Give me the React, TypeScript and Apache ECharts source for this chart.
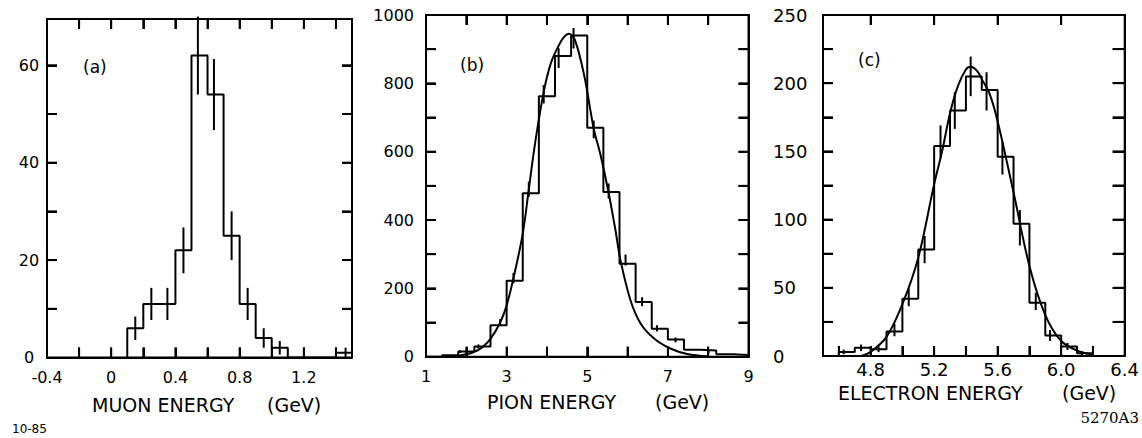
import React, { useEffect, useRef } from "react";
import * as echarts from "echarts";

// ---------- Panel (a): muon energy ----------
const muonBinEdges = [0.1, 0.2, 0.3, 0.4, 0.5, 0.6, 0.7, 0.8, 0.9, 1.0, 1.1, 1.2, 1.3, 1.4, 1.5];
const muonCounts = [6, 11, 11, 22, 62, 54, 25, 11, 4, 2, 0, 0, 0, 1];
const muonErrX = [0.15, 0.25, 0.35, 0.45, 0.54, 0.64, 0.75, 0.85, 0.95, 1.05, 1.46];
const muonErrMid = [6, 11, 11, 22, 62, 54, 25, 11, 4, 2, 1];
const muonErrHalf = [2.4, 3.3, 3.3, 4.7, 8, 7.3, 5, 3.3, 2, 1.4, 1];
const muonXTicks = [-0.2, 0, 0.2, 0.4, 0.6, 0.8, 1.0, 1.2, 1.4];
const muonYTicks = [10, 20, 30, 40, 50, 60];

// ---------- Panel (b): pion energy ----------
const pionBinEdges = [1.0, 1.4, 1.8, 2.2, 2.6, 3.0, 3.4, 3.8, 4.2, 4.6, 5.0, 5.4, 5.8, 6.2, 6.6, 7.0, 7.4, 7.8, 8.2, 8.6, 9.0];
const pionCounts = [0, 4, 15, 30, 92, 222, 478, 762, 880, 940, 670, 482, 272, 160, 82, 50, 20, 18, 7, 5];
const pionErrX = [1.85, 2.3, 2.84, 3.17, 3.55, 3.92, 4.29, 4.66, 5.16, 5.53, 5.95, 6.36, 6.73, 7.19, 8.01];
const pionErrMid = [15, 30, 100, 230, 490, 768, 874, 932, 665, 485, 283, 161, 83, 49, 15];
const pionErrHalf = [4, 6, 10, 15, 22, 27, 29, 30, 26, 22, 16, 13, 9, 7, 4];
const pionFitX = [1.4, 1.8, 2.0, 2.2, 2.4, 2.6, 2.84, 3.0, 3.17, 3.4, 3.55, 3.7, 3.92, 4.1, 4.29, 4.42, 4.55, 4.7, 4.93, 5.16, 5.33, 5.53, 5.7, 5.82, 6.07, 6.32, 6.65, 7.06, 7.48, 8.0];
const pionFitY = [0, 3, 7, 14, 28, 52, 100, 150, 230, 360, 490, 620, 775, 860, 910, 935, 945, 925, 820, 668, 590, 480, 370, 285, 166, 98, 54, 24, 8, 1];
const pionXTicks = [2, 3, 4, 5, 6, 7, 8];
const pionYTicks = [100, 200, 300, 400, 500, 600, 700, 800, 900];

// ---------- Panel (c): electron energy ----------
const elecBinEdges = [4.6, 4.7, 4.8, 4.9, 5.0, 5.1, 5.2, 5.3, 5.4, 5.5, 5.6, 5.7, 5.8, 5.9, 6.0, 6.1, 6.2];
const elecCounts = [3, 6, 5, 18, 42, 78, 154, 180, 205, 195, 146, 97, 39, 15, 7, 2];
const elecErrX = [4.63, 4.74, 4.85, 4.95, 5.04, 5.14, 5.24, 5.33, 5.43, 5.53, 5.63, 5.74, 5.84, 5.93, 6.04, 6.13];
const elecErrMid = [3, 6, 5, 19, 43, 78, 157, 180, 205, 194, 145, 94, 40, 15, 7, 2];
const elecErrHalf = [1.7, 2.4, 2.2, 4.5, 6.5, 10, 12, 13.5, 14.5, 14, 12, 13, 6.3, 4, 2.6, 1.5];
const elecFitX = [4.74, 4.8, 4.9, 5.0, 5.1, 5.2, 5.25, 5.3, 5.35, 5.4, 5.43, 5.47, 5.5, 5.55, 5.6, 5.7, 5.8, 5.9, 6.0, 6.1, 6.2];
const elecFitY = [0, 3, 14, 38, 72, 126, 150, 178, 198, 210, 212, 209, 203, 192, 172, 120, 66, 30, 11, 4, 1];
const elecXTicks = [4.6, 4.8, 5.0, 5.2, 5.4, 5.6, 5.8, 6.0, 6.2];
const elecXTopTicks = [4.8, 5.2, 5.6, 6.0];
const elecYTicks = [25, 50, 75, 100, 125, 150, 175, 200, 225];

const FONT = "'DejaVu Sans', sans-serif";
const BLACK = "#000";

function histPoints(edges: number[], counts: number[]) {
  const pts: number[][] = [[edges[0], 0]];
  counts.forEach((c, i) => {
    pts.push([edges[i], c]);
    pts.push([edges[i + 1], c]);
  });
  pts.push([edges[edges.length - 1], 0]);
  return pts;
}

function lineSeries(data: number[][], smooth: number | boolean) {
  return {
    type: "line",
    data,
    smooth,
    showSymbol: false,
    symbol: "none",
    z: 3,
    lineStyle: { color: BLACK, width: 2 },
  };
}

function errSeries(xs: number[], mids: number[], halfs: number[]) {
  return {
    type: "custom",
    clip: false,
    z: 4,
    data: xs.map((x, i) => [x, mids[i] - halfs[i], mids[i] + halfs[i]]),
    renderItem: (_p: any, api: any) => {
      const a = api.coord([api.value(0), api.value(1)]);
      const b = api.coord([api.value(0), api.value(2)]);
      return {
        type: "line",
        shape: { x1: a[0], y1: a[1], x2: b[0], y2: b[1] },
        style: { stroke: BLACK, lineWidth: 2 },
      };
    },
  };
}

// inward tick marks [x, y, dirX, dirY, lengthPx]
function tickSeries(xmin: number, xmax: number, ymax: number, xb: number[], xt: number[], yt: number[], rightLen: number) {
  const data: number[][] = [];
  xb.forEach((v) => data.push([v, 0, 0, -1, 10]));
  xt.forEach((v) => data.push([v, ymax, 0, 1, 10]));
  yt.forEach((v) => data.push([xmin, v, 1, 0, 10]));
  yt.forEach((v) => data.push([xmax, v, -1, 0, rightLen]));
  return {
    type: "custom",
    clip: false,
    z: 5,
    data,
    renderItem: (_p: any, api: any) => {
      const a = api.coord([api.value(0), api.value(1)]);
      const len = api.value(4);
      return {
        type: "line",
        shape: { x1: a[0], y1: a[1], x2: a[0] + api.value(2) * len, y2: a[1] + api.value(3) * len },
        style: { stroke: BLACK, lineWidth: 2 },
      };
    },
  };
}

type Cfg = {
  grid: { left: number; top: number; width: number; height: number };
  xmin: number;
  xmax: number;
  xInt: number;
  ymax: number;
  yInt: number;
  xFmt: (v: number) => string;
  yFmt: (v: number) => string;
  xFont: number;
  yFont: number;
  xMargin: number;
  yAlign: string;
  yMargin: number;
  bottomCustom?: number[];
  topCustom?: number[];
  rightLen: number;
  series: any[];
  titles: any[];
};

function makeOption(c: Cfg) {
  const line = { show: true, onZero: false, lineStyle: { color: BLACK, width: 2 } };
  const tick = (len: number, custom?: number[]) => ({
    show: true,
    inside: true,
    length: len,
    lineStyle: { color: BLACK, width: 2 },
    ...(custom ? { customValues: custom } : {}),
  });
  return {
    animation: false,
    title: c.titles,
    grid: { ...c.grid, show: true, borderColor: BLACK, borderWidth: 2 },
    xAxis: [
      {
        type: "value",
        position: "bottom",
        min: c.xmin,
        max: c.xmax,
        interval: c.xInt,
        axisLine: line,
        axisTick: tick(10, c.bottomCustom),
        axisLabel: { formatter: c.xFmt, color: BLACK, fontSize: c.xFont, fontFamily: FONT, margin: c.xMargin },
        splitLine: { show: false },
      },
      {
        type: "value",
        position: "top",
        min: c.xmin,
        max: c.xmax,
        interval: c.xInt,
        axisLine: line,
        axisTick: tick(10, c.topCustom),
        axisLabel: { show: false },
        splitLine: { show: false },
      },
    ],
    yAxis: [
      {
        type: "value",
        position: "left",
        min: 0,
        max: c.ymax,
        interval: c.yInt,
        axisLine: line,
        axisTick: tick(10),
        axisLabel: {
          formatter: c.yFmt,
          color: BLACK,
          fontSize: c.yFont,
          fontFamily: FONT,
          align: c.yAlign,
          margin: c.yMargin,
        },
        splitLine: { show: false },
      },
      {
        type: "value",
        position: "right",
        min: 0,
        max: c.ymax,
        interval: c.yInt,
        axisLine: line,
        axisTick: tick(c.rightLen),
        axisLabel: { show: false },
        splitLine: { show: false },
      },
    ],
    series: c.series,
  };
}

function title(text: string, left: number | null, top: number, size: number, right?: number, family = FONT) {
  const t: any = {
    text,
    top,
    padding: 0,
    textStyle: { fontSize: size, fontWeight: "normal", color: BLACK, fontFamily: family },
  };
  if (right !== undefined) t.right = right;
  else t.left = left;
  return t;
}

// label helpers (show only every other tick, as printed)
const fmtA = (v: number) => {
  const r = Math.round(v * 10);
  return r % 4 === 0 && r <= 12 ? (r === 0 ? "0" : (r / 10).toFixed(1)) : "";
};
const fmtAy = (v: number) => (v % 20 === 0 && v <= 60 ? String(v) : "");
const fmtBx = (v: number) => (Math.round(v) % 2 === 1 ? String(Math.round(v)) : "");
const fmtBy = (v: number) => (v % 200 === 0 ? String(v) : "");
const fmtCx = (v: number) => {
  const r = Math.round(v * 10);
  return r % 4 === 0 ? (r / 10).toFixed(1) : "";
};
const fmtCy = (v: number) => (v % 50 === 0 ? String(v) : "");

const PANEL_A: Cfg = {
  grid: { left: 47, top: 19, width: 305, height: 338.5 },
  xmin: -0.4,
  xmax: 1.5,
  xInt: 0.2,
  ymax: 69.5,
  yInt: 10,
  xFmt: fmtA,
  yFmt: fmtAy,
  xFont: 16,
  yFont: 16,
  xMargin: 12,
  yAlign: "center",
  yMargin: 18,
  rightLen: 10,
  series: [
    lineSeries(histPoints(muonBinEdges, muonCounts), false),
    errSeries(muonErrX, muonErrMid, muonErrHalf),
    tickSeries(-0.4, 1.5, 69.5, muonXTicks, muonXTicks, muonYTicks, 10),
  ],
  titles: [
    title("(a)", 83, 58, 17),
    title("MUON ENERGY", 92, 395, 19),
    title("(GeV)", 267, 395, 19),
    title("10-85", 12, 423, 12),
  ],
};

const B_OFF = 362;
const PANEL_B: Cfg = {
  grid: { left: 426 - B_OFF, top: 15, width: 322.5, height: 341.7 },
  xmin: 1,
  xmax: 9,
  xInt: 1,
  ymax: 1000,
  yInt: 100,
  xFmt: fmtBx,
  yFmt: fmtBy,
  xFont: 16,
  yFont: 16,
  xMargin: 12,
  yAlign: "right",
  yMargin: 12,
  rightLen: 10,
  series: [
    lineSeries(histPoints(pionBinEdges, pionCounts), false),
    lineSeries(pionFitX.map((x, i) => [x, pionFitY[i]]), 0.35),
    errSeries(pionErrX, pionErrMid, pionErrHalf),
    tickSeries(1, 9, 1000, pionXTicks, pionXTicks, pionYTicks, 10),
  ],
  titles: [
    title("(b)", 460 - B_OFF, 56, 17),
    title("PION ENERGY", 487 - B_OFF, 392, 19),
    title("(GeV)", 655 - B_OFF, 392, 19),
  ],
};

const C_OFF = 770;
const PANEL_C: Cfg = {
  grid: { left: 822 - C_OFF, top: 15, width: 305, height: 341 },
  xmin: 4.5,
  xmax: 6.4,
  xInt: 0.1,
  ymax: 250,
  yInt: 25,
  xFmt: fmtCx,
  yFmt: fmtCy,
  xFont: 18,
  yFont: 18,
  xMargin: 4,
  yAlign: "left",
  yMargin: 50,
  bottomCustom: elecXTicks,
  topCustom: elecXTopTicks,
  rightLen: 12,
  series: [
    lineSeries(histPoints(elecBinEdges, elecCounts), false),
    lineSeries(elecFitX.map((x, i) => [x, elecFitY[i]]), 0.35),
    errSeries(elecErrX, elecErrMid, elecErrHalf),
    tickSeries(4.5, 6.4, 250, elecXTicks, elecXTopTicks, elecYTicks, 12),
  ],
  titles: [
    title("(c)", 858 - C_OFF, 51, 17),
    title("ELECTRON ENERGY", 838 - C_OFF, 383, 19),
    title("(GeV)", 1062 - C_OFF, 383, 19),
    title("5270A3", null, 410, 15, 3, "'DejaVu Serif', serif"),
  ],
};

function Panel({ cfg, left, width }: { cfg: Cfg; left: number; width: number }) {
  const ref = useRef<HTMLDivElement>(null);
  useEffect(() => {
    if (!ref.current) return;
    const chart = echarts.init(ref.current, undefined, { renderer: "svg" });
    chart.setOption(makeOption(cfg) as any);
    return () => chart.dispose();
  }, [cfg]);
  return <div ref={ref} style={{ position: "absolute", left, top: 0, width, height: 438 }} />;
}

export default function App() {
  return (
    <div style={{ position: "fixed", left: 0, top: 0, width: 1142, height: 438, background: "#fff" }}>
      <Panel cfg={PANEL_A} left={0} width={B_OFF} />
      <Panel cfg={PANEL_B} left={B_OFF} width={C_OFF - B_OFF} />
      <Panel cfg={PANEL_C} left={C_OFF} width={1142 - C_OFF} />
    </div>
  );
}
